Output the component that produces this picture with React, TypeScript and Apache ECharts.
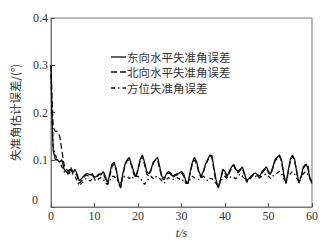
import React, { useEffect, useRef } from "react";
import * as echarts from "echarts";

const timeS = [
  0, 0.2, 0.5, 1, 1.5, 2, 2.5, 3, 3.5, 4, 4.5, 5, 5.5, 6, 6.5, 7, 7.5, 8, 8.5, 9, 9.5, 10,
  10.5, 11, 11.5, 12, 12.5, 13, 13.5, 14, 14.5, 15, 15.5, 16, 16.5, 17, 17.5, 18, 18.5, 19, 19.5, 20,
  20.5, 21, 21.5, 22, 22.5, 23, 23.5, 24, 24.5, 25, 25.5, 26, 26.5, 27, 27.5, 28, 28.5, 29, 29.5, 30,
  30.5, 31, 31.5, 32, 32.5, 33, 33.5, 34, 34.5, 35, 35.5, 36, 36.5, 37, 37.5, 38, 38.5, 39, 39.5, 40,
  40.5, 41, 41.5, 42, 42.5, 43, 43.5, 44, 44.5, 45, 45.5, 46, 46.5, 47, 47.5, 48, 48.5, 49, 49.5, 50,
  50.5, 51, 51.5, 52, 52.5, 53, 53.5, 54, 54.5, 55, 55.5, 56, 56.5, 57, 57.5, 58, 58.5, 59, 59.5, 60,
];

const eastErr = [
  0.3, 0.2, 0.12, 0.1, 0.1, 0.095, 0.1, 0.08, 0.075, 0.07, 0.08, 0.072, 0.08, 0.07, 0.055, 0.06, 0.065, 0.07, 0.07, 0.068, 0.07, 0.063,
  0.065, 0.07, 0.068, 0.075, 0.065, 0.05, 0.07, 0.09, 0.095, 0.08, 0.055, 0.04, 0.07, 0.09, 0.1, 0.105, 0.09, 0.075, 0.065, 0.08,
  0.1, 0.11, 0.095, 0.075, 0.07, 0.08, 0.095, 0.1, 0.105, 0.085, 0.065, 0.06, 0.07, 0.075, 0.072, 0.065, 0.068, 0.07, 0.072, 0.075,
  0.07, 0.055, 0.05, 0.075, 0.095, 0.105, 0.095, 0.075, 0.065, 0.075, 0.09, 0.1, 0.11, 0.108, 0.08, 0.055, 0.04, 0.06, 0.08, 0.075,
  0.065, 0.075, 0.085, 0.09, 0.08, 0.075, 0.08, 0.085, 0.07, 0.055, 0.06, 0.065, 0.07, 0.072, 0.068, 0.065, 0.075, 0.08, 0.085, 0.075,
  0.07, 0.085, 0.1, 0.105, 0.11, 0.1, 0.07, 0.05, 0.075, 0.1, 0.11, 0.1, 0.075, 0.05, 0.065, 0.085, 0.09, 0.085, 0.06, 0.05,
];

const northErr = [
  0.3, 0.24, 0.17, 0.16, 0.16, 0.15, 0.12, 0.09, 0.08, 0.075, 0.085, 0.075, 0.075, 0.065, 0.05, 0.055, 0.062, 0.068, 0.066, 0.065, 0.068, 0.06,
  0.062, 0.068, 0.07, 0.072, 0.06, 0.048, 0.065, 0.085, 0.092, 0.078, 0.05, 0.042, 0.066, 0.088, 0.098, 0.1, 0.088, 0.07, 0.062, 0.078,
  0.098, 0.108, 0.09, 0.07, 0.066, 0.078, 0.092, 0.1, 0.1, 0.08, 0.06, 0.058, 0.068, 0.072, 0.07, 0.062, 0.066, 0.068, 0.07, 0.072,
  0.066, 0.052, 0.05, 0.072, 0.092, 0.1, 0.09, 0.072, 0.062, 0.072, 0.088, 0.098, 0.108, 0.105, 0.075, 0.05, 0.042, 0.058, 0.078, 0.072,
  0.062, 0.072, 0.082, 0.088, 0.078, 0.072, 0.078, 0.082, 0.068, 0.052, 0.058, 0.062, 0.068, 0.07, 0.066, 0.062, 0.072, 0.078, 0.082, 0.072,
  0.068, 0.082, 0.098, 0.102, 0.108, 0.096, 0.066, 0.05, 0.072, 0.096, 0.108, 0.098, 0.072, 0.052, 0.062, 0.082, 0.088, 0.092, 0.062, 0.052,
];

const azimuthErr = [
  0.28, 0.2, 0.13, 0.11, 0.1, 0.095, 0.085, 0.075, 0.07, 0.07, 0.075, 0.07, 0.065, 0.055, 0.045, 0.05, 0.055, 0.06, 0.058, 0.055, 0.06, 0.058,
  0.055, 0.06, 0.062, 0.06, 0.05, 0.048, 0.055, 0.065, 0.065, 0.06, 0.055, 0.05, 0.06, 0.065, 0.065, 0.06, 0.065, 0.06, 0.065, 0.065,
  0.06, 0.055, 0.048, 0.055, 0.06, 0.065, 0.06, 0.065, 0.062, 0.06, 0.055, 0.05, 0.058, 0.062, 0.06, 0.058, 0.06, 0.062, 0.06, 0.055,
  0.058, 0.05, 0.05, 0.06, 0.065, 0.062, 0.06, 0.058, 0.06, 0.065, 0.062, 0.055, 0.06, 0.06, 0.055, 0.048, 0.045, 0.055, 0.06, 0.065,
  0.06, 0.062, 0.065, 0.062, 0.06, 0.065, 0.07, 0.065, 0.06, 0.055, 0.058, 0.065, 0.068, 0.065, 0.06, 0.062, 0.065, 0.068, 0.07, 0.065,
  0.06, 0.065, 0.07, 0.072, 0.075, 0.07, 0.06, 0.055, 0.065, 0.07, 0.075, 0.07, 0.06, 0.055, 0.065, 0.07, 0.075, 0.07, 0.06, 0.055,
];

const seriesNames = ["东向水平失准角误差", "北向水平失准角误差", "方位失准角误差"];
const yTicks = [0, 0.1, 0.2, 0.3, 0.4];
const xTicks = [0, 10, 20, 30, 40, 50, 60];

const FONT = "'Liberation Serif', 'Noto Sans CJK SC', serif";
const CJK = "'Noto Sans CJK SC', serif";

export default function App() {
  const ref = useRef<HTMLDivElement>(null);
  useEffect(() => {
    if (!ref.current) return;
    const chart = echarts.init(ref.current, undefined, { renderer: "svg" });
    const pair = (vals: number[]) => timeS.map((t, i) => [t, vals[i]]);
    const dashes = [null, [6, 3], [4, 3, 1.5, 3]];
    const legendY = [57, 72, 88];
    chart.setOption({
      animation: false,
      backgroundColor: "#fff",
      grid: { left: 51, right: 18, top: 18, bottom: 39, show: true, borderColor: "#777", borderWidth: 1 },
      xAxis: {
        type: "value",
        min: xTicks[0],
        max: xTicks[xTicks.length - 1],
        interval: 10,
        axisLine: { lineStyle: { color: "#777" } },
        axisTick: { inside: true, length: 4, lineStyle: { color: "#555" } },
        splitLine: { show: false },
        axisLabel: { color: "#333", fontFamily: FONT, fontSize: 12, margin: 3 },
        name: "t/s",
        nameLocation: "middle",
        nameGap: 19,
        nameTextStyle: { color: "#333", fontFamily: FONT, fontSize: 12, fontStyle: "italic" },
      },
      yAxis: {
        type: "value",
        min: yTicks[0],
        max: yTicks[yTicks.length - 1],
        interval: 0.1,
        axisLine: { lineStyle: { color: "#777" } },
        axisTick: { inside: true, length: 4, lineStyle: { color: "#555" } },
        splitLine: { show: false },
        axisLabel: {
          color: "#333",
          fontFamily: FONT,
          fontSize: 12,
          margin: 3,
          formatter: (v: number) => (v === 0 ? "{z|0}" : String(v)),
          rich: { z: { fontFamily: FONT, fontSize: 12, color: "#333", padding: [0, 10, 14, 0] } },
        },
        name: "失准角估计误差/(°)",
        nameLocation: "middle",
        nameGap: 27,
        nameTextStyle: { color: "#333", fontFamily: CJK, fontSize: 11.5 },
      },
      series: [eastErr, northErr, azimuthErr].map((vals, i) => ({
        type: "line",
        name: seriesNames[i],
        data: pair(vals),
        symbol: "none",
        lineStyle: { color: "#111", width: 1.3, type: dashes[i] || "solid" },
      })),
      graphic: seriesNames.flatMap((name, i) => [
        {
          type: "line",
          shape: { x1: 111, y1: legendY[i], x2: 126, y2: legendY[i] },
          style: { stroke: "#111", lineWidth: 1.3, lineDash: dashes[i] || null },
        },
        {
          type: "text",
          x: 127,
          y: legendY[i],
          style: {
            text: name,
            fill: "#333",
            font: `11.5px ${CJK}`,
            lineHeight: 13,
            textVerticalAlign: "middle",
          },
        },
      ]),
    });
    return () => chart.dispose();
  }, []);
  return <div ref={ref} style={{ position: "fixed", left: 0, top: 0, width: 330, height: 246 }} />;
}
